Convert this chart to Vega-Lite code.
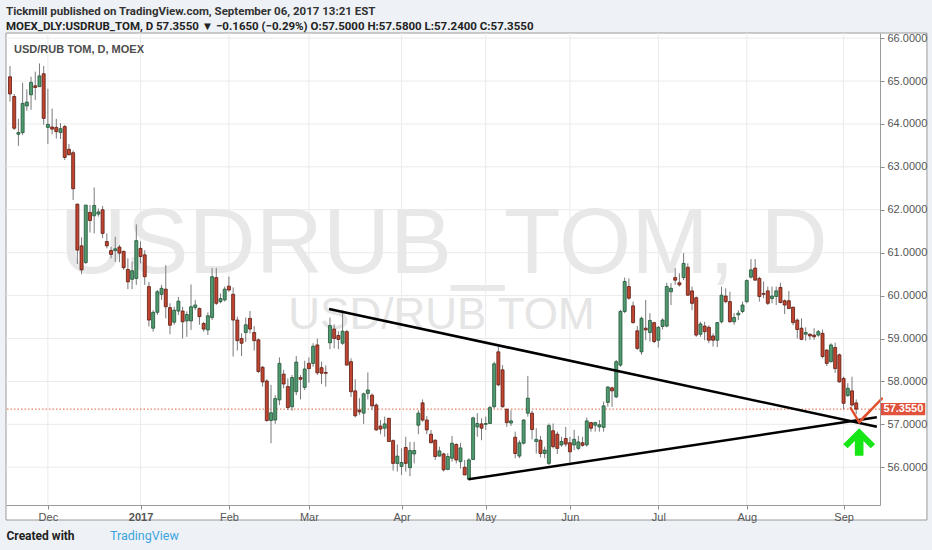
{
  "$schema": "https://vega.github.io/schema/vega-lite/v6.json",
  "width": 874,
  "height": 472,
  "autosize": "none",
  "padding": {"left": 6, "top": 33, "right": 52, "bottom": 45},
  "background": "#eef2f6",
  "config": {"view": {"stroke": null}, "font": "Liberation Sans"},
  "title": {
    "text": "Tickmill published on TradingView.com, September 06, 2017 13:21 EST",
    "subtitle": "MOEX_DLY:USDRUB_TOM, D  57.3550 ▼ −0.1650 (−0.29%) O:57.5000 H:57.5800 L:57.2400 C:57.3550",
    "anchor": "start", "frame": "group",
    "font": "Roboto", "fontSize": 11.5, "fontWeight": "bold", "color": "#333333",
    "subtitleFont": "Roboto", "subtitleFontSize": 11.5, "subtitleFontWeight": "bold", "subtitleColor": "#222222",
    "offset": 0, "subtitlePadding": 3
  },
  "data": {"values": [{"k": 1}]},
  "datasets": {
    "ohlc": [
      {"i":0,"o":65.10,"h":65.35,"l":64.52,"c":64.70},
      {"i":1,"o":64.64,"h":64.70,"l":63.86,"c":63.90},
      {"i":2,"o":63.76,"h":64.12,"l":63.49,"c":63.80},
      {"i":3,"o":63.80,"h":64.96,"l":63.74,"c":64.48},
      {"i":4,"o":64.42,"h":64.81,"l":64.31,"c":64.51},
      {"i":5,"o":64.68,"h":65.10,"l":64.33,"c":64.97},
      {"i":6,"o":64.89,"h":65.22,"l":64.56,"c":64.85},
      {"i":7,"o":64.87,"h":65.41,"l":64.87,"c":65.12},
      {"i":8,"o":65.17,"h":65.35,"l":63.98,"c":64.13},
      {"i":9,"o":63.92,"h":64.82,"l":63.53,"c":63.99},
      {"i":10,"o":63.93,"h":64.36,"l":63.76,"c":63.88},
      {"i":11,"o":63.92,"h":64.12,"l":63.66,"c":63.82},
      {"i":12,"o":63.80,"h":64.02,"l":63.65,"c":63.89},
      {"i":13,"o":63.94,"h":63.98,"l":63.16,"c":63.22},
      {"i":14,"o":63.41,"h":63.53,"l":63.28,"c":63.28},
      {"i":15,"o":63.33,"h":63.38,"l":62.23,"c":62.49},
      {"i":16,"o":62.13,"h":62.15,"l":60.74,"c":61.06},
      {"i":17,"o":61.16,"h":61.36,"l":60.50,"c":60.60},
      {"i":18,"o":60.77,"h":62.11,"l":60.74,"c":62.11},
      {"i":19,"o":61.94,"h":62.11,"l":61.47,"c":61.75},
      {"i":20,"o":61.86,"h":62.52,"l":61.45,"c":62.10},
      {"i":21,"o":61.90,"h":62.03,"l":61.84,"c":61.95},
      {"i":22,"o":62.00,"h":62.09,"l":61.34,"c":61.45},
      {"i":23,"o":61.26,"h":61.45,"l":61.10,"c":61.16},
      {"i":24,"o":61.05,"h":61.14,"l":60.87,"c":60.96},
      {"i":25,"o":61.05,"h":61.37,"l":60.79,"c":61.09},
      {"i":26,"o":61.13,"h":61.18,"l":60.78,"c":60.99},
      {"i":27,"o":61.03,"h":61.05,"l":60.60,"c":60.65},
      {"i":28,"o":60.61,"h":60.87,"l":60.15,"c":60.32},
      {"i":29,"o":60.38,"h":60.79,"l":60.15,"c":60.58},
      {"i":30,"o":60.40,"h":61.66,"l":60.25,"c":61.28},
      {"i":31,"o":61.10,"h":61.26,"l":60.75,"c":60.91},
      {"i":32,"o":60.95,"h":61.06,"l":60.25,"c":60.44},
      {"i":33,"o":60.21,"h":60.32,"l":59.28,"c":59.43},
      {"i":34,"o":59.24,"h":59.66,"l":59.16,"c":59.61},
      {"i":35,"o":59.61,"h":60.13,"l":59.55,"c":60.09},
      {"i":36,"o":60.03,"h":60.25,"l":59.90,"c":60.17},
      {"i":37,"o":60.15,"h":60.71,"l":59.47,"c":59.74},
      {"i":38,"o":59.72,"h":59.82,"l":59.10,"c":59.31},
      {"i":39,"o":59.38,"h":59.74,"l":59.32,"c":59.66},
      {"i":40,"o":59.64,"h":59.97,"l":59.55,"c":59.87},
      {"i":41,"o":59.64,"h":59.74,"l":59.00,"c":59.39},
      {"i":42,"o":59.41,"h":59.63,"l":59.04,"c":59.56},
      {"i":43,"o":59.41,"h":60.26,"l":59.20,"c":59.74},
      {"i":44,"o":59.72,"h":59.90,"l":59.66,"c":59.78},
      {"i":45,"o":59.70,"h":59.72,"l":59.32,"c":59.51},
      {"i":46,"o":59.35,"h":59.39,"l":59.16,"c":59.22},
      {"i":47,"o":59.20,"h":59.61,"l":59.08,"c":59.53},
      {"i":48,"o":59.49,"h":60.64,"l":59.43,"c":60.44},
      {"i":49,"o":60.42,"h":60.64,"l":59.78,"c":59.82},
      {"i":50,"o":59.86,"h":60.05,"l":59.82,"c":59.93},
      {"i":51,"o":59.90,"h":60.21,"l":59.86,"c":60.15},
      {"i":52,"o":60.22,"h":60.44,"l":60.09,"c":60.13},
      {"i":53,"o":60.03,"h":60.19,"l":58.58,"c":59.43},
      {"i":54,"o":59.43,"h":59.51,"l":58.72,"c":58.95},
      {"i":55,"o":59.00,"h":59.12,"l":58.59,"c":58.89},
      {"i":56,"o":59.14,"h":59.49,"l":58.92,"c":59.32},
      {"i":57,"o":59.47,"h":59.64,"l":59.12,"c":59.22},
      {"i":58,"o":59.14,"h":59.29,"l":58.72,"c":58.95},
      {"i":59,"o":58.97,"h":59.00,"l":58.20,"c":58.23},
      {"i":60,"o":58.33,"h":58.36,"l":57.88,"c":57.99},
      {"i":61,"o":58.01,"h":58.05,"l":57.06,"c":57.09},
      {"i":62,"o":57.09,"h":57.92,"l":56.56,"c":57.27},
      {"i":63,"o":57.10,"h":57.68,"l":57.01,"c":57.60},
      {"i":64,"o":57.57,"h":58.56,"l":57.45,"c":58.42},
      {"i":65,"o":58.17,"h":58.27,"l":57.84,"c":57.94},
      {"i":66,"o":57.88,"h":58.07,"l":57.33,"c":57.39},
      {"i":67,"o":57.41,"h":58.15,"l":57.32,"c":58.09},
      {"i":68,"o":57.76,"h":58.59,"l":57.68,"c":58.45},
      {"i":69,"o":58.09,"h":58.15,"l":57.58,"c":58.05},
      {"i":70,"o":57.86,"h":58.48,"l":57.80,"c":58.29},
      {"i":71,"o":58.42,"h":58.56,"l":57.97,"c":58.30},
      {"i":72,"o":58.42,"h":58.89,"l":58.34,"c":58.82},
      {"i":73,"o":58.85,"h":59.00,"l":58.15,"c":58.20},
      {"i":74,"o":58.32,"h":58.46,"l":57.94,"c":58.19},
      {"i":75,"o":58.21,"h":58.37,"l":57.88,"c":58.19},
      {"i":76,"o":58.90,"h":59.49,"l":58.75,"c":59.30},
      {"i":77,"o":59.22,"h":59.33,"l":58.77,"c":59.00},
      {"i":78,"o":59.07,"h":59.17,"l":58.75,"c":58.98},
      {"i":79,"o":58.89,"h":59.66,"l":58.85,"c":59.17},
      {"i":80,"o":59.16,"h":59.20,"l":58.38,"c":58.38},
      {"i":81,"o":58.46,"h":58.54,"l":57.64,"c":57.76},
      {"i":82,"o":57.78,"h":58.05,"l":57.16,"c":57.20},
      {"i":83,"o":57.33,"h":57.61,"l":57.22,"c":57.29},
      {"i":84,"o":57.26,"h":57.74,"l":57.01,"c":57.71},
      {"i":85,"o":57.72,"h":58.21,"l":57.58,"c":57.80},
      {"i":86,"o":57.68,"h":57.72,"l":57.33,"c":57.43},
      {"i":87,"o":57.45,"h":57.49,"l":56.85,"c":56.87},
      {"i":88,"o":56.96,"h":57.10,"l":56.77,"c":56.89},
      {"i":89,"o":56.91,"h":57.18,"l":56.71,"c":57.01},
      {"i":90,"o":57.14,"h":57.15,"l":56.60,"c":56.60},
      {"i":91,"o":56.62,"h":56.65,"l":55.92,"c":56.09},
      {"i":92,"o":56.09,"h":56.53,"l":55.90,"c":56.26},
      {"i":93,"o":56.02,"h":56.44,"l":55.82,"c":56.11},
      {"i":94,"o":56.46,"h":56.71,"l":55.90,"c":56.09},
      {"i":95,"o":55.99,"h":56.59,"l":55.79,"c":56.39},
      {"i":96,"o":56.31,"h":56.59,"l":56.09,"c":56.39},
      {"i":97,"o":56.98,"h":57.33,"l":56.77,"c":57.26},
      {"i":98,"o":57.50,"h":57.58,"l":57.06,"c":57.10},
      {"i":99,"o":57.10,"h":57.19,"l":56.77,"c":56.87},
      {"i":100,"o":56.77,"h":56.87,"l":56.56,"c":56.57},
      {"i":101,"o":56.63,"h":56.65,"l":56.17,"c":56.25},
      {"i":102,"o":56.26,"h":56.48,"l":56.25,"c":56.38},
      {"i":103,"o":56.31,"h":56.34,"l":55.90,"c":55.94},
      {"i":104,"o":55.95,"h":56.33,"l":55.93,"c":56.25},
      {"i":105,"o":56.21,"h":56.73,"l":56.13,"c":56.56},
      {"i":106,"o":56.53,"h":56.56,"l":56.09,"c":56.17},
      {"i":107,"o":56.13,"h":56.57,"l":55.97,"c":56.45},
      {"i":108,"o":56.00,"h":56.17,"l":55.82,"c":55.82},
      {"i":109,"o":55.72,"h":56.21,"l":55.70,"c":56.17},
      {"i":110,"o":56.18,"h":57.18,"l":56.17,"c":57.15},
      {"i":111,"o":56.94,"h":57.26,"l":56.71,"c":57.02},
      {"i":112,"o":57.01,"h":57.14,"l":56.63,"c":56.91},
      {"i":113,"o":57.00,"h":57.18,"l":56.87,"c":57.02},
      {"i":114,"o":57.02,"h":57.43,"l":57.01,"c":57.39},
      {"i":115,"o":57.41,"h":58.46,"l":57.37,"c":58.41},
      {"i":116,"o":58.69,"h":58.81,"l":57.89,"c":57.92},
      {"i":117,"o":58.27,"h":58.38,"l":57.39,"c":57.41},
      {"i":118,"o":57.35,"h":57.37,"l":56.94,"c":57.04},
      {"i":119,"o":57.03,"h":57.33,"l":56.96,"c":57.08},
      {"i":120,"o":56.70,"h":56.83,"l":56.21,"c":56.32},
      {"i":121,"o":56.26,"h":56.63,"l":56.21,"c":56.57},
      {"i":122,"o":56.56,"h":57.12,"l":56.53,"c":57.10},
      {"i":123,"o":57.26,"h":58.13,"l":57.18,"c":57.61},
      {"i":124,"o":57.26,"h":57.32,"l":56.65,"c":56.88},
      {"i":125,"o":56.60,"h":56.91,"l":56.32,"c":56.65},
      {"i":126,"o":56.63,"h":56.73,"l":56.23,"c":56.32},
      {"i":127,"o":56.32,"h":56.48,"l":56.21,"c":56.40},
      {"i":128,"o":56.09,"h":57.02,"l":56.05,"c":56.97},
      {"i":129,"o":56.85,"h":57.02,"l":56.44,"c":56.48},
      {"i":130,"o":56.77,"h":56.83,"l":56.31,"c":56.44},
      {"i":131,"o":56.52,"h":56.71,"l":56.48,"c":56.60},
      {"i":132,"o":56.67,"h":56.94,"l":56.48,"c":56.54},
      {"i":133,"o":56.57,"h":56.71,"l":56.11,"c":56.36},
      {"i":134,"o":56.52,"h":56.87,"l":56.40,"c":56.65},
      {"i":135,"o":56.44,"h":56.73,"l":56.40,"c":56.59},
      {"i":136,"o":56.57,"h":56.71,"l":56.48,"c":56.51},
      {"i":137,"o":56.52,"h":57.16,"l":56.48,"c":57.08},
      {"i":138,"o":57.04,"h":57.06,"l":56.83,"c":56.91},
      {"i":139,"o":56.98,"h":57.06,"l":56.83,"c":57.04},
      {"i":140,"o":56.94,"h":57.10,"l":56.83,"c":56.99},
      {"i":141,"o":56.93,"h":57.53,"l":56.83,"c":57.43},
      {"i":142,"o":57.51,"h":57.89,"l":57.41,"c":57.87},
      {"i":143,"o":57.85,"h":57.88,"l":57.41,"c":57.78},
      {"i":144,"o":57.64,"h":58.50,"l":57.61,"c":58.46},
      {"i":145,"o":58.38,"h":59.67,"l":58.34,"c":59.63},
      {"i":146,"o":59.63,"h":60.42,"l":59.59,"c":60.33},
      {"i":147,"o":60.21,"h":60.40,"l":59.90,"c":59.94},
      {"i":148,"o":59.76,"h":59.86,"l":59.35,"c":59.37},
      {"i":149,"o":59.18,"h":59.29,"l":58.73,"c":58.77},
      {"i":150,"o":58.69,"h":59.51,"l":58.62,"c":59.47},
      {"i":151,"o":59.24,"h":59.90,"l":58.96,"c":59.20},
      {"i":152,"o":59.14,"h":59.59,"l":58.93,"c":59.42},
      {"i":153,"o":59.37,"h":59.39,"l":58.89,"c":58.93},
      {"i":154,"o":58.96,"h":59.29,"l":58.79,"c":59.26},
      {"i":155,"o":59.28,"h":59.47,"l":59.21,"c":59.43},
      {"i":156,"o":59.29,"h":60.30,"l":59.26,"c":60.21},
      {"i":157,"o":60.09,"h":60.29,"l":59.78,"c":60.17},
      {"i":158,"o":60.42,"h":60.64,"l":60.25,"c":60.36},
      {"i":159,"o":60.30,"h":60.52,"l":60.21,"c":60.25},
      {"i":160,"o":60.42,"h":60.99,"l":60.36,"c":60.75},
      {"i":161,"o":60.66,"h":60.75,"l":59.99,"c":60.01},
      {"i":162,"o":60.11,"h":60.21,"l":59.66,"c":59.82},
      {"i":163,"o":59.95,"h":59.98,"l":59.04,"c":59.08},
      {"i":164,"o":59.10,"h":59.39,"l":59.04,"c":59.34},
      {"i":165,"o":59.29,"h":59.39,"l":58.96,"c":59.16},
      {"i":166,"o":59.26,"h":59.31,"l":58.89,"c":58.96},
      {"i":167,"o":59.06,"h":59.12,"l":58.81,"c":58.96},
      {"i":168,"o":58.96,"h":59.39,"l":58.80,"c":59.37},
      {"i":169,"o":59.39,"h":60.21,"l":59.35,"c":60.01},
      {"i":170,"o":59.99,"h":60.17,"l":59.82,"c":59.86},
      {"i":171,"o":59.86,"h":60.09,"l":59.37,"c":59.39},
      {"i":172,"o":59.39,"h":59.59,"l":59.32,"c":59.49},
      {"i":173,"o":59.55,"h":59.66,"l":59.43,"c":59.59},
      {"i":174,"o":59.63,"h":59.86,"l":59.59,"c":59.78},
      {"i":175,"o":59.86,"h":60.38,"l":59.82,"c":60.35},
      {"i":176,"o":60.43,"h":60.85,"l":60.40,"c":60.60},
      {"i":177,"o":60.64,"h":60.85,"l":60.35,"c":60.36},
      {"i":178,"o":60.40,"h":60.44,"l":59.86,"c":59.98},
      {"i":179,"o":60.05,"h":60.33,"l":59.94,"c":60.03},
      {"i":180,"o":60.11,"h":60.21,"l":59.78,"c":59.82},
      {"i":181,"o":59.93,"h":60.21,"l":59.82,"c":59.99},
      {"i":182,"o":59.98,"h":60.21,"l":59.78,"c":60.11},
      {"i":183,"o":60.19,"h":60.30,"l":59.82,"c":59.84},
      {"i":184,"o":59.88,"h":59.91,"l":59.57,"c":59.78},
      {"i":185,"o":59.88,"h":60.11,"l":59.68,"c":59.70},
      {"i":186,"o":59.73,"h":59.74,"l":59.31,"c":59.37},
      {"i":187,"o":59.43,"h":59.47,"l":59.00,"c":59.21},
      {"i":188,"o":59.24,"h":59.47,"l":58.96,"c":58.98},
      {"i":189,"o":59.10,"h":59.26,"l":58.95,"c":59.14},
      {"i":190,"o":59.10,"h":59.12,"l":58.97,"c":59.06},
      {"i":191,"o":59.08,"h":59.24,"l":58.97,"c":59.04},
      {"i":192,"o":59.08,"h":59.20,"l":59.04,"c":59.16},
      {"i":193,"o":59.12,"h":59.21,"l":58.54,"c":58.58},
      {"i":194,"o":58.73,"h":58.75,"l":58.36,"c":58.42},
      {"i":195,"o":58.46,"h":58.89,"l":58.44,"c":58.85},
      {"i":196,"o":58.79,"h":58.90,"l":58.20,"c":58.30},
      {"i":197,"o":58.62,"h":58.65,"l":57.97,"c":57.99},
      {"i":198,"o":58.07,"h":58.11,"l":57.35,"c":57.49},
      {"i":199,"o":57.67,"h":57.96,"l":57.64,"c":57.84},
      {"i":200,"o":57.78,"h":58.11,"l":57.41,"c":57.45},
      {"i":201,"o":57.50,"h":57.58,"l":57.24,"c":57.355}
    ],
    "gridY": [{"v":56},{"v":57},{"v":58},{"v":59},{"v":60},{"v":61},{"v":62},{"v":63},{"v":64},{"v":65},{"v":66}],
    "gridX": [{"v":9},{"v":31},{"v":52},{"v":71},{"v":93},{"v":113},{"v":133},{"v":154},{"v":175},{"v":198}],
    "trend": [
      {"ln":"upper","i":75.8,"p":59.69},
      {"ln":"upper","i":205.9,"p":56.944},
      {"ln":"lower","i":108.9,"p":55.72},
      {"ln":"lower","i":205.9,"p":57.163}
    ],
    "redArrow": [
      {"seg":"shaft","i":201.7,"p":57.05},
      {"seg":"shaft","i":207.1,"p":57.6},
      {"seg":"left","i":201.7,"p":57.05},
      {"seg":"left","i":199.7,"p":57.38},
      {"seg":"right","i":201.7,"p":57.05},
      {"seg":"right","i":204.5,"p":57.34}
    ]
  },
  "layer": [
    {
      "mark": {"type": "rect", "fill": "#ffffff", "stroke": "#9a9a9a", "strokeWidth": 1, "clip": false},
      "encoding": {
        "x": {"datum": -0.95, "type": "quantitative", "scale": {"domain": [-0.95, 206.65], "nice": false, "zero": false, "padding": 0}},
        "x2": {"datum": 217.8},
        "y": {"datum": 66.12, "type": "quantitative", "scale": {"domain": [55.12, 66.12], "nice": false, "zero": false, "padding": 0}},
        "y2": {"datum": 54.77}
      }
    },
    {
      "data": {"name": "gridY"},
      "mark": {"type": "rule", "color": "#ebebeb", "strokeWidth": 1},
      "encoding": {"y": {"field": "v", "type": "quantitative"}}
    },
    {
      "data": {"name": "gridX"},
      "mark": {"type": "rule", "color": "#ebebeb", "strokeWidth": 1},
      "encoding": {"x": {"field": "v", "type": "quantitative"}}
    },
    {
      "mark": {"type": "text", "text": "USDRUB_TOM, D", "font": "Liberation Sans", "fontSize": 93, "color": "#e8e8e8", "align": "center", "baseline": "alphabetic"},
      "encoding": {"x": {"datum": 102.97, "type": "quantitative"}, "y": {"datum": 60.53, "type": "quantitative"}}
    },
    {
      "mark": {"type": "text", "text": "USD/RUB TOM", "font": "Liberation Sans", "fontSize": 44, "color": "#e5e5e5", "align": "center", "baseline": "alphabetic"},
      "encoding": {"x": {"datum": 102.5, "type": "quantitative"}, "y": {"datum": 59.22, "type": "quantitative"}}
    },
    {
      "mark": {"type": "text", "text": "USD/RUB TOM, D, MOEX", "font": "Liberation Sans", "fontSize": 11, "fontWeight": "bold", "color": "#4d4d4d", "align": "left", "baseline": "alphabetic"},
      "encoding": {"x": {"datum": 0.95, "type": "quantitative"}, "y": {"datum": 65.66, "type": "quantitative"}}
    },
    {
      "mark": {"type": "rule", "color": "#e8603c", "strokeWidth": 1, "strokeDash": [1.5, 2]},
      "encoding": {"y": {"datum": 57.355, "type": "quantitative"}}
    },
    {
      "data": {"name": "ohlc"},
      "mark": {"type": "rule", "color": "#7a7a7c", "strokeWidth": 1},
      "encoding": {
        "x": {"field": "i", "type": "quantitative",
          "axis": {"values": [9,31,52,71,93,113,133,154,175,198],
            "labelExpr": "datum.value==9?'Dec':datum.value==31?'2017':datum.value==52?'Feb':datum.value==71?'Mar':datum.value==93?'Apr':datum.value==113?'May':datum.value==133?'Jun':datum.value==154?'Jul':datum.value==175?'Aug':'Sep'",
            "labelFontWeight": {"condition": {"test": "datum.value==31", "value": "bold"}, "value": "normal"},
            "labelFont": "Liberation Sans", "labelFontSize": 11, "labelColor": "#555555", "labelPadding": 2, "labelOverlap": false, "labelFlush": false,
            "tickSize": 4, "tickColor": "#8a8a8a", "domainColor": "#9a9a9a", "grid": false, "zindex": 1,
            "title": "Created with", "titleFont": "Roboto", "titleFontSize": 12, "titleFontWeight": "bold", "titleColor": "#222222",
            "titleAnchor": "start", "titleAlign": "left", "titlePadding": 8}},
        "y": {"field": "l", "type": "quantitative",
          "axis": {"orient": "right", "values": [56,57,58,59,60,61,62,63,64,65,66], "format": ".4f",
            "labelFont": "Liberation Sans", "labelFontSize": 11, "labelColor": "#555555", "labelPadding": 3,
            "tickSize": 4, "tickColor": "#8a8a8a", "domainColor": "#9a9a9a", "grid": false, "zindex": 1, "title": null}},
        "y2": {"field": "h"}
      }
    },
    {
      "data": {"name": "ohlc"},
      "mark": {"type": "bar", "size": 3, "strokeWidth": 0.8, "orient": "vertical"},
      "encoding": {
        "x": {"field": "i", "type": "quantitative"},
        "y": {"field": "o", "type": "quantitative"},
        "y2": {"field": "c"},
        "color": {"condition": {"test": "datum.c >= datum.o", "value": "#4f9a6e"}, "value": "#c2452f"},
        "stroke": {"condition": {"test": "datum.c >= datum.o", "value": "#225437"}, "value": "#5b1a13"}
      }
    },
    {
      "data": {"name": "trend"},
      "mark": {"type": "line", "color": "#000000", "strokeWidth": 2.6},
      "encoding": {
        "x": {"field": "i", "type": "quantitative"},
        "y": {"field": "p", "type": "quantitative"},
        "detail": {"field": "ln"}
      }
    },
    {
      "data": {"name": "redArrow"},
      "mark": {"type": "line", "color": "#e0502e", "strokeWidth": 2.4, "clip": false, "strokeCap": "round"},
      "encoding": {
        "x": {"field": "i", "type": "quantitative"},
        "y": {"field": "p", "type": "quantitative"},
        "detail": {"field": "seg"}
      }
    },
    {
      "mark": {"type": "point", "shape": "M0,-0.86 L1,0.14 L0.72,0.4 L0.27,-0.05 L0.27,0.86 L-0.27,0.86 L-0.27,-0.05 L-0.72,0.4 L-1,0.14 Z", "size": 1024, "filled": true, "color": "#16e516", "opacity": 1, "strokeWidth": 0},
      "encoding": {"x": {"datum": 201.7, "type": "quantitative"}, "y": {"datum": 56.59, "type": "quantitative"}}
    },
    {
      "mark": {"type": "rect", "fill": "#e0533d", "clip": false},
      "encoding": {
        "x": {"datum": 206.65, "type": "quantitative"}, "x2": {"datum": 217.4},
        "y": {"datum": 57.50, "type": "quantitative"}, "y2": {"datum": 57.21}
      }
    },
    {
      "mark": {"type": "text", "text": "57.3550", "font": "Liberation Sans", "fontSize": 11, "fontWeight": "bold", "color": "#ffffff", "align": "left", "baseline": "middle", "clip": false},
      "encoding": {"x": {"datum": 207.5, "type": "quantitative"}, "y": {"datum": 57.355, "type": "quantitative"}}
    },
    {
      "mark": {"type": "text", "text": "TradingView", "font": "Roboto", "fontSize": 12.5, "color": "#3ba4dc", "align": "left", "baseline": "alphabetic", "clip": false},
      "encoding": {"x": {"datum": 23.75, "type": "quantitative"}, "y": {"datum": 54.305, "type": "quantitative"}}
    }
  ]
}
